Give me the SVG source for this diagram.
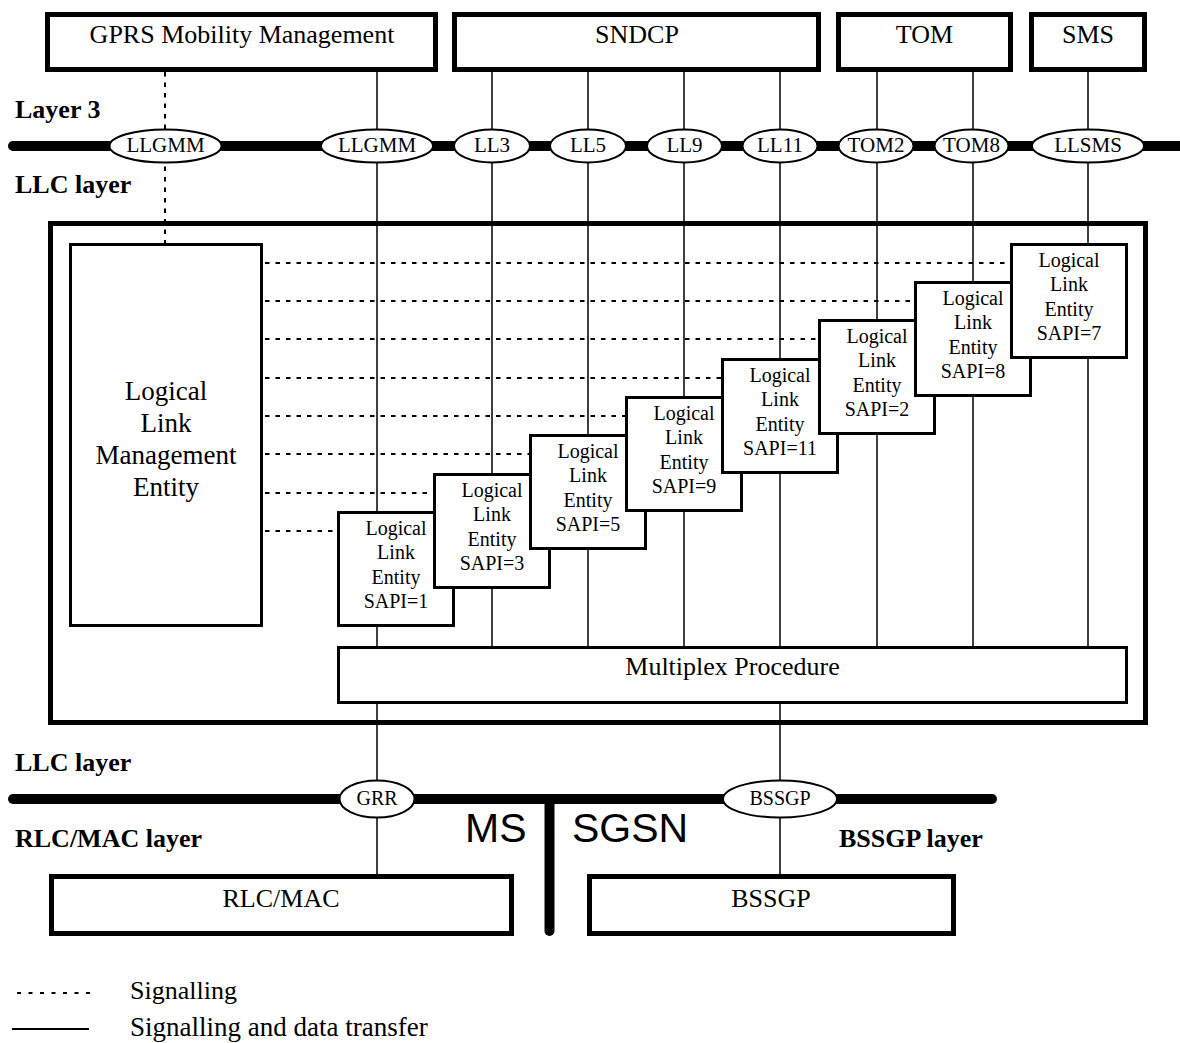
<svg xmlns="http://www.w3.org/2000/svg" width="1180" height="1043" viewBox="0 0 1180 1043">
<style>
.box{fill:#fff;stroke:#000}
.k5{stroke-width:5}
.k3{stroke-width:3}
.t{font-family:"Liberation Serif","Times New Roman",serif;fill:#000;text-anchor:middle}
.s26{font-size:26px}
.s27{font-size:27px}
.s21{font-size:21px}
.s20{font-size:20px}
.lbl{font-family:"Liberation Serif","Times New Roman",serif;font-weight:bold;font-size:26px;fill:#000}
.sans{font-family:"Liberation Sans",Arial,sans-serif;font-size:41px;fill:#000}
.bus{stroke:#000;stroke-width:10;stroke-linecap:round;fill:none}
.sol{stroke:#000;stroke-width:1.5;fill:none}
.dot{stroke:#000;stroke-width:2;stroke-dasharray:4.5 6;fill:none}
.ell{fill:#fff;stroke:#000;stroke-width:2}
</style>
<rect width="1180" height="1043" fill="#fff"/>

<g id="llc-entity-frame">
<rect class="box k5" x="50.5" y="223.5" width="1095" height="499"/>
</g>

<g id="connectors">
<!-- layer buses -->
<line class="bus" x1="13" y1="146" x2="1195" y2="146"/>
<line class="bus" x1="13" y1="799" x2="992" y2="799"/>
<line class="bus" x1="549.5" y1="799" x2="549.5" y2="931"/>
<!-- solid service access lines -->
<line class="sol" x1="377" y1="70" x2="377" y2="647"/>
<line class="sol" x1="492" y1="70" x2="492" y2="647"/>
<line class="sol" x1="588" y1="70" x2="588" y2="647"/>
<line class="sol" x1="684" y1="70" x2="684" y2="647"/>
<line class="sol" x1="780" y1="70" x2="780" y2="647"/>
<line class="sol" x1="877" y1="70" x2="877" y2="647"/>
<line class="sol" x1="973" y1="70" x2="973" y2="647"/>
<line class="sol" x1="1088" y1="70" x2="1088" y2="647"/>
<line class="sol" x1="377" y1="703" x2="377" y2="876"/>
<line class="sol" x1="780" y1="703" x2="780" y2="876"/>
<!-- signalling (dotted) -->
<line class="dot" x1="165" y1="72" x2="165" y2="243"/>
<line class="dot" x1="265" y1="263" x2="1010" y2="263"/>
<line class="dot" x1="265" y1="301" x2="914" y2="301"/>
<line class="dot" x1="265" y1="339" x2="818" y2="339"/>
<line class="dot" x1="265" y1="378" x2="721" y2="378"/>
<line class="dot" x1="265" y1="416" x2="625" y2="416"/>
<line class="dot" x1="265" y1="454" x2="529" y2="454"/>
<line class="dot" x1="265" y1="493" x2="433" y2="493"/>
<line class="dot" x1="265" y1="531" x2="337" y2="531"/>
</g>

<g id="gprs-mm">
<rect class="box k5" x="47.5" y="14.5" width="388" height="55"/>
<text class="t s26" x="242" y="43">GPRS Mobility Management</text>
</g>
<g id="sndcp">
<rect class="box k5" x="454.5" y="14.5" width="364" height="55"/>
<text class="t s26" x="637" y="43">SNDCP</text>
</g>
<g id="tom">
<rect class="box k5" x="838.5" y="14.5" width="172" height="55"/>
<text class="t s26" x="924.5" y="43">TOM</text>
</g>
<g id="sms">
<rect class="box k5" x="1031.5" y="14.5" width="113" height="55"/>
<text class="t s26" x="1088" y="43">SMS</text>
</g>

<g id="sap-llgmm-1"><ellipse class="ell" cx="165.5" cy="146" rx="56" ry="16.5"/><text class="t s21" x="165.5" y="152">LLGMM</text></g>
<g id="sap-llgmm-2"><ellipse class="ell" cx="377" cy="146" rx="56" ry="16.5"/><text class="t s21" x="377" y="152">LLGMM</text></g>
<g id="sap-ll3"><ellipse class="ell" cx="492" cy="146" rx="38" ry="16.5"/><text class="t s21" x="492" y="152">LL3</text></g>
<g id="sap-ll5"><ellipse class="ell" cx="588" cy="146" rx="38" ry="16.5"/><text class="t s21" x="588" y="152">LL5</text></g>
<g id="sap-ll9"><ellipse class="ell" cx="684.5" cy="146" rx="37.5" ry="16.5"/><text class="t s21" x="684.5" y="152">LL9</text></g>
<g id="sap-ll11"><ellipse class="ell" cx="780" cy="146" rx="37.5" ry="16.5"/><text class="t s21" x="780" y="152">LL11</text></g>
<g id="sap-tom2"><ellipse class="ell" cx="876" cy="146" rx="37.5" ry="16.5"/><text class="t s21" x="876" y="152">TOM2</text></g>
<g id="sap-tom8"><ellipse class="ell" cx="971.5" cy="146" rx="37" ry="16.5"/><text class="t s21" x="971.5" y="152">TOM8</text></g>
<g id="sap-llsms"><ellipse class="ell" cx="1088" cy="146" rx="56" ry="16.5"/><text class="t s21" x="1088" y="152">LLSMS</text></g>

<g id="llme">
<rect class="box k3" x="70.5" y="244.5" width="191" height="381"/>
<text class="t s27" x="166" y="400">Logical</text>
<text class="t s27" x="166" y="432">Link</text>
<text class="t s27" x="166" y="464">Management</text>
<text class="t s27" x="166" y="496">Entity</text>
</g>

<g id="lle-sapi1">
<rect class="box k3" x="338.5" y="512.5" width="115" height="113"/>
<text class="t s20" x="396" y="535">Logical</text><text class="t s20" x="396" y="559">Link</text><text class="t s20" x="396" y="584">Entity</text><text class="t s20" x="396" y="608">SAPI=1</text>
</g>
<g id="lle-sapi3">
<rect class="box k3" x="434.5" y="474.5" width="115" height="113"/>
<text class="t s20" x="492" y="497">Logical</text><text class="t s20" x="492" y="521">Link</text><text class="t s20" x="492" y="546">Entity</text><text class="t s20" x="492" y="570">SAPI=3</text>
</g>
<g id="lle-sapi5">
<rect class="box k3" x="530.5" y="435.5" width="115" height="113"/>
<text class="t s20" x="588" y="458">Logical</text><text class="t s20" x="588" y="482">Link</text><text class="t s20" x="588" y="507">Entity</text><text class="t s20" x="588" y="531">SAPI=5</text>
</g>
<g id="lle-sapi9">
<rect class="box k3" x="626.5" y="397.5" width="115" height="113"/>
<text class="t s20" x="684" y="420">Logical</text><text class="t s20" x="684" y="444">Link</text><text class="t s20" x="684" y="469">Entity</text><text class="t s20" x="684" y="493">SAPI=9</text>
</g>
<g id="lle-sapi11">
<rect class="box k3" x="722.5" y="359.5" width="115" height="113"/>
<text class="t s20" x="780" y="382">Logical</text><text class="t s20" x="780" y="406">Link</text><text class="t s20" x="780" y="431">Entity</text><text class="t s20" x="780" y="455">SAPI=11</text>
</g>
<g id="lle-sapi2">
<rect class="box k3" x="819.5" y="320.5" width="115" height="113"/>
<text class="t s20" x="877" y="343">Logical</text><text class="t s20" x="877" y="367">Link</text><text class="t s20" x="877" y="392">Entity</text><text class="t s20" x="877" y="416">SAPI=2</text>
</g>
<g id="lle-sapi8">
<rect class="box k3" x="915.5" y="282.5" width="115" height="113"/>
<text class="t s20" x="973" y="305">Logical</text><text class="t s20" x="973" y="329">Link</text><text class="t s20" x="973" y="354">Entity</text><text class="t s20" x="973" y="378">SAPI=8</text>
</g>
<g id="lle-sapi7">
<rect class="box k3" x="1011.5" y="244.5" width="115" height="113"/>
<text class="t s20" x="1069" y="267">Logical</text><text class="t s20" x="1069" y="291">Link</text><text class="t s20" x="1069" y="316">Entity</text><text class="t s20" x="1069" y="340">SAPI=7</text>
</g>

<g id="multiplex">
<rect class="box k3" x="338.5" y="647.5" width="788" height="55"/>
<text class="t s26" x="732.5" y="675">Multiplex Procedure</text>
</g>

<g id="sap-grr"><ellipse class="ell" cx="377" cy="799" rx="37.5" ry="18.5"/><text class="t s20" x="377" y="805">GRR</text></g>
<g id="sap-bssgp"><ellipse class="ell" cx="780" cy="799" rx="57" ry="18.5"/><text class="t s20" x="780" y="805">BSSGP</text></g>

<g id="rlc-mac">
<rect class="box k5" x="51.5" y="876.5" width="460" height="57"/>
<text class="t s26" x="281" y="907">RLC/MAC</text>
</g>
<g id="bssgp">
<rect class="box k5" x="589.5" y="876.5" width="364" height="57"/>
<text class="t s26" x="771" y="907">BSSGP</text>
</g>

<g id="layer-labels">
<text class="lbl" x="15" y="118">Layer 3</text>
<text class="lbl" x="15" y="193">LLC layer</text>
<text class="lbl" x="15" y="771">LLC layer</text>
<text class="lbl" x="15" y="847">RLC/MAC layer</text>
<text class="lbl" x="839" y="847">BSSGP layer</text>
<text class="sans" x="465" y="842">MS</text>
<text class="sans" x="572" y="842">SGSN</text>
</g>

<g id="legend">
<line class="dot" x1="17" y1="993" x2="90" y2="993" style="stroke-dasharray:4 7.5"/>
<line class="sol" x1="12" y1="1029" x2="89" y2="1029" style="stroke-width:2"/>
<text class="t s26" x="130" y="999" style="text-anchor:start">Signalling</text>
<text class="t s27" x="130" y="1036" style="text-anchor:start">Signalling and data transfer</text>
</g>
</svg>
